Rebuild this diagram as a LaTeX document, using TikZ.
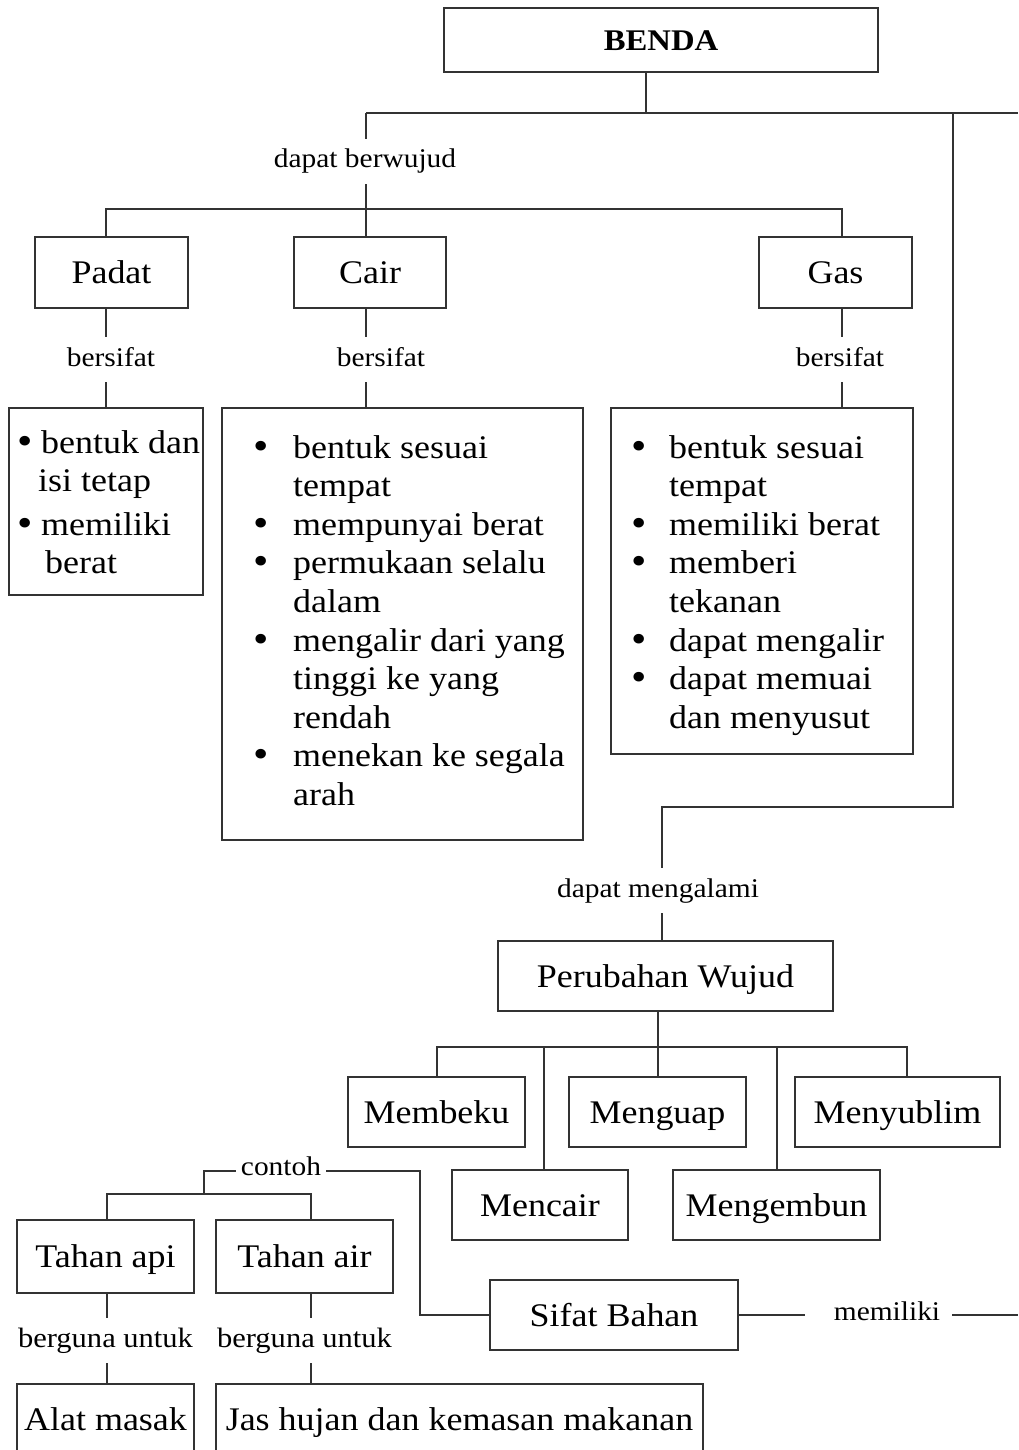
\documentclass[tikz,border=0pt]{standalone}
\usepackage{fontspec}
\setmainfont{Liberation Serif}[FakeStretch=1.09]
\usepackage{array}
\newcommand{\mybul}{\raisebox{-1pt}{\scalebox{1.22}{\textbullet}}}
\begin{document}
\begin{tikzpicture}[x=1pt,y=-1pt,
  box/.style={draw=black!80, line width=1.4pt, inner sep=0pt,
    font=\fontsize{33}{39}\selectfont, text height=25pt, text depth=3pt,
    minimum height=70pt},
  listbox/.style={draw=black!80, line width=1.4pt, inner sep=0pt},
  lab/.style={inner xsep=4pt, inner ysep=10pt, font=\fontsize{27}{32}\selectfont,
    text height=19pt, text depth=6pt, anchor=base},
  listtext/.style={inner sep=0pt, anchor=base west},
  conn/.style={draw=black!80, line width=1.4pt}]
\useasboundingbox (0,0) rectangle (1018,1450);
\clip (0,0) rectangle (1018,1450);

% ---------- nodes ----------
\node[box, font=\fontsize{30}{36}\selectfont\bfseries, minimum width=434pt, minimum height=64pt] (benda) at (661,40) {BENDA};

\node[lab] (berwujud) at (365,168) {dapat berwujud};

\node[box, minimum width=153pt, minimum height=71pt] (padat) at (111.5,272.5) {Padat};
\node[box, minimum width=152pt, minimum height=71pt] (cair) at (370,272.5) {Cair};
\node[box, minimum width=153pt, minimum height=71pt] (gas) at (835.5,272.5) {Gas};

\node[lab] (bpadat) at (111,366) {bersifat};
\node[lab] (bcair) at (381,366) {bersifat};
\node[lab] (bgas) at (840,366) {bersifat};

\node[listbox, minimum width=194pt, minimum height=187pt] (padatlist) at (106,501.5) {};
\node[listbox, minimum width=361pt, minimum height=432pt] (cairlist) at (402.5,624) {};
\node[listbox, minimum width=302pt, minimum height=346pt] (gaslist) at (762,581) {};

\node[listtext, font=\fontsize{33}{38}\selectfont] (padattxt) at (17,453) {%
\begin{tabular}[t]{@{}l@{}l@{}}
\makebox[24pt][l]{\mybul} & bentuk dan\\
 & \hspace*{-3pt}isi tetap\\[6pt]
\makebox[24pt][l]{\mybul} & memiliki\\
 & \hspace*{4pt}berat
\end{tabular}};

\node[listtext, font=\fontsize{33}{38.6}\selectfont] (cairtxt) at (253,458) {%
\begin{tabular}[t]{@{}l@{}l@{}}
\makebox[40pt][l]{\mybul} & bentuk sesuai\\
 & tempat\\
\makebox[40pt][l]{\mybul} & mempunyai berat\\
\makebox[40pt][l]{\mybul} & permukaan selalu\\
 & dalam\\
\makebox[40pt][l]{\mybul} & mengalir dari yang\\
 & tinggi ke yang\\
 & rendah\\
\makebox[40pt][l]{\mybul} & menekan ke segala\\
 & arah
\end{tabular}};

\node[listtext, font=\fontsize{33}{38.6}\selectfont] (gastxt) at (631,458) {%
\begin{tabular}[t]{@{}l@{}l@{}}
\makebox[38pt][l]{\mybul} & bentuk sesuai\\
 & tempat\\
\makebox[38pt][l]{\mybul} & memiliki berat\\
\makebox[38pt][l]{\mybul} & memberi\\
 & tekanan\\
\makebox[38pt][l]{\mybul} & dapat mengalir\\
\makebox[38pt][l]{\mybul} & dapat memuai\\
 & dan menyusut
\end{tabular}};

\node[lab] (mengalami) at (658,897) {dapat mengalami};
\node[box, minimum width=335pt] (perubahan) at (665.5,976) {Perubahan Wujud};

\node[box, minimum width=177pt] (membeku) at (436.5,1112) {Membeku};
\node[box, minimum width=177pt] (menguap) at (657.5,1112) {Menguap};
\node[box, minimum width=205pt] (menyublim) at (897.5,1112) {Menyublim};
\node[box, minimum width=176pt] (mencair) at (540,1205) {Mencair};
\node[box, minimum width=207pt] (mengembun) at (776.5,1205) {Mengembun};

\node[lab, inner xsep=5pt] (contoh) at (281,1175) {contoh};
\node[box, minimum width=177pt, minimum height=73pt] (tapi) at (105.5,1256.5) {Tahan api};
\node[box, minimum width=177pt, minimum height=73pt] (tair) at (304.5,1256.5) {Tahan air};
\node[lab, font=\fontsize{28}{33}\selectfont] (gapi) at (105.5,1347) {berguna untuk};
\node[lab, font=\fontsize{28}{33}\selectfont] (gair) at (304.5,1347) {berguna untuk};
\node[box, minimum width=177pt] (alat) at (105.5,1419) {Alat masak};
\node[box, minimum width=487pt] (jas) at (459.5,1419) {Jas hujan dan kemasan makanan};

\node[box, minimum width=248pt] (sifat) at (614,1315) {Sifat Bahan};
\node[lab, inner xsep=12pt] (memiliki) at (887,1320) {memiliki};

% ---------- coordinates ----------
\coordinate (j0) at (646,113);
\coordinate (jl) at (366,113);
\coordinate (jv) at (953,113);
\coordinate (jr) at (1018,113);
\coordinate (hl) at (106,209);
\coordinate (hr) at (842,209);
\coordinate (c1) at (953,807);
\coordinate (c2) at (662,807);
\coordinate (p0) at (658,1047);
\coordinate (pl) at (437,1047);
\coordinate (pr) at (907,1047);
\coordinate (q1) at (544,1047);
\coordinate (q2) at (777,1047);
\coordinate (k1) at (204,1171);
\coordinate (k2) at (420,1171);
\coordinate (k3) at (420,1315);
\coordinate (k4) at (204,1194);
\coordinate (tl) at (107,1194);
\coordinate (tr) at (311,1194);
\coordinate (m1) at (805,1315);
\coordinate (m3) at (1018,1315);

% ---------- connectors ----------
\draw[conn] (benda.south -| j0) -- (j0);
\draw[conn] (jl) -- (jr);
\draw[conn] (jl) -- (jl |- berwujud.north);
\draw[conn] (jl |- berwujud.south) -- (jl |- cair.north);
\draw[conn] (hl |- padat.north) -- (hl) -- (hr) -- (hr |- gas.north);

\draw[conn] (hl |- padat.south) -- (hl |- bpadat.north);
\draw[conn] (hl |- bpadat.south) -- (hl |- padatlist.north);
\draw[conn] (jl |- cair.south) -- (jl |- bcair.north);
\draw[conn] (jl |- bcair.south) -- (jl |- cairlist.north);
\draw[conn] (hr |- gas.south) -- (hr |- bgas.north);
\draw[conn] (hr |- bgas.south) -- (hr |- gaslist.north);

\draw[conn] (jv) -- (c1) -- (c2) -- (c2 |- mengalami.north);
\draw[conn] (c2 |- mengalami.south) -- (c2 |- perubahan.north);

\draw[conn] (p0 |- perubahan.south) -- (p0);
\draw[conn] (pl |- membeku.north) -- (pl) -- (pr) -- (pr |- menyublim.north);
\draw[conn] (p0) -- (p0 |- menguap.north);
\draw[conn] (q1) -- (q1 |- mencair.north);
\draw[conn] (q2) -- (q2 |- mengembun.north);

\draw[conn] (contoh.west |- k1) -- (k1) -- (k4);
\draw[conn] (contoh.east |- k2) -- (k2) -- (k3) -- (sifat.west);
\draw[conn] (tl |- tapi.north) -- (tl) -- (tr) -- (tr |- tair.north);
\draw[conn] (tl |- tapi.south) -- (tl |- gapi.north);
\draw[conn] (tl |- gapi.south) -- (tl |- alat.north);
\draw[conn] (tr |- tair.south) -- (tr |- gair.north);
\draw[conn] (tr |- gair.south) -- (tr |- jas.north);

\draw[conn] (sifat.east) -- (m1);
\draw[conn] (memiliki.east |- m3) -- (m3);
\end{tikzpicture}
\end{document}
